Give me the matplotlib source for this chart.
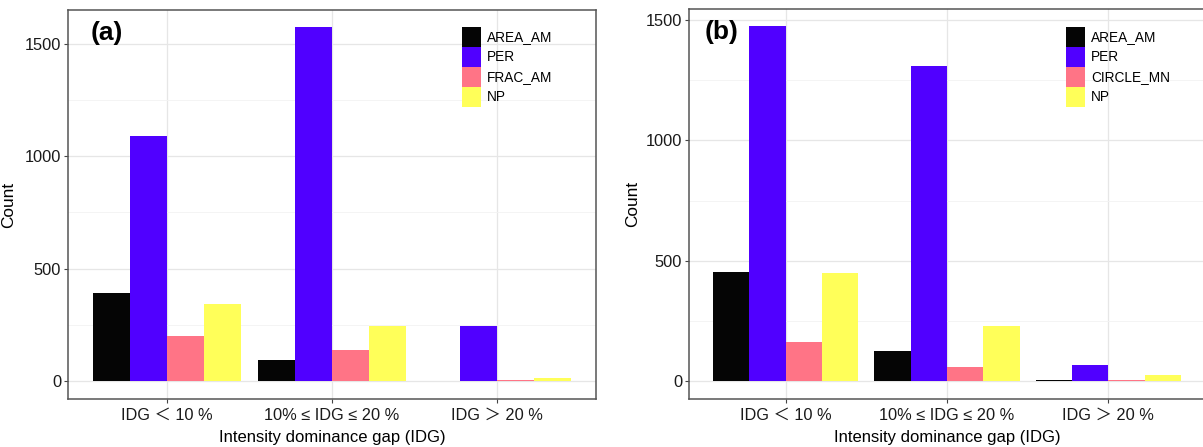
#!/usr/bin/env python3
"""Grouped bar charts: count per IDG class for landscape metrics, panels (a) and (b)."""
import numpy as np
import matplotlib
matplotlib.use("Agg")
import matplotlib.pyplot as plt
from matplotlib.ticker import MultipleLocator

plt.rcParams["font.family"] = ["Liberation Sans", "Noto Sans CJK SC", "DejaVu Sans"]

groups = ["IDG \uff1c 10 %", "10% \u2264 IDG \u2264 20 %", "IDG \uff1e 20 %"]
colors = ["#050505", "#5000FF", "#FF7486", "#FFFF59"]

series_a = ["AREA_AM", "PER", "FRAC_AM", "NP"]
area_a = [392, 92, 0]
per_a = [1090, 1575, 244]
frac_a = [201, 138, 4]
np_a = [341, 246, 12]

series_b = ["AREA_AM", "PER", "CIRCLE_MN", "NP"]
area_b = [452, 125, 5]
per_b = [1475, 1308, 66]
circle_b = [163, 57, 5]
np_b = [448, 229, 25]

W, H = 1203, 447


def draw(ax, names, values, ylim, tag, tag_x, ylabel_x, legend_px):
    x = np.arange(len(groups))
    bw = 0.9 / len(names)
    for i, (nm, vals, c) in enumerate(zip(names, values, colors)):
        ax.bar(x - 0.45 + bw * (i + 0.5), vals, width=bw, color=c,
               edgecolor="none", label=nm, zorder=3)
    ax.set_xlim(-0.6, len(groups) - 0.4)
    ax.set_ylim(*ylim)
    ax.set_xticks(x)
    ax.set_xticklabels(groups)
    ax.yaxis.set_major_locator(MultipleLocator(500))
    ax.yaxis.set_minor_locator(MultipleLocator(250))
    ax.tick_params(labelsize=11.8, labelcolor="#1a1a1a", pad=2)
    ax.tick_params(axis="x", pad=3.5)
    ax.tick_params(which="major", length=3, color="#444444", width=0.8)
    ax.tick_params(which="minor", length=0)
    ax.grid(which="major", color="#E6E6E6", linewidth=0.9, zorder=0)
    ax.grid(which="minor", axis="y", color="#F2F2F2", linewidth=0.6, zorder=0)
    for s in ax.spines.values():
        s.set_color("#555555")
        s.set_linewidth(1.1)
    ax.set_xlabel("Intensity dominance gap (IDG)", fontsize=12, labelpad=5)
    ax.set_ylabel("Count", fontsize=12.4)
    ax.yaxis.set_label_coords(ylabel_x, 0.5)
    ax.text(tag_x, 0.94, tag, transform=ax.transAxes, fontsize=19,
            fontweight="bold", va="center", ha="left")
    ax.legend(loc="upper left", bbox_to_anchor=(legend_px[0] / W, 1 - legend_px[1] / H),
              bbox_transform=fig.transFigure, frameon=False,
              fontsize=9.8, handlelength=1.4, handleheight=1.88,
              handletextpad=0.45, labelspacing=0.0, borderpad=0, borderaxespad=0)


fig = plt.figure(figsize=(W / 100, H / 100), dpi=100)

ax1 = fig.add_axes([68 / W, 1 - 399 / H, (596 - 68) / W, (399 - 10) / H])
draw(ax1, series_a, [area_a, per_a, frac_a, np_a], (-80, 1650), "(a)",
     0.042, -0.098, (462, 27))

ax2 = fig.add_axes([689 / W, 1 - 399 / H, (1205 - 689) / W, (399 - 9) / H])
draw(ax2, series_b, [area_b, per_b, circle_b, np_b], (-75, 1546), "(b)",
     0.031, -0.095, (1066, 27))

fig.savefig("out.png", dpi=100)
